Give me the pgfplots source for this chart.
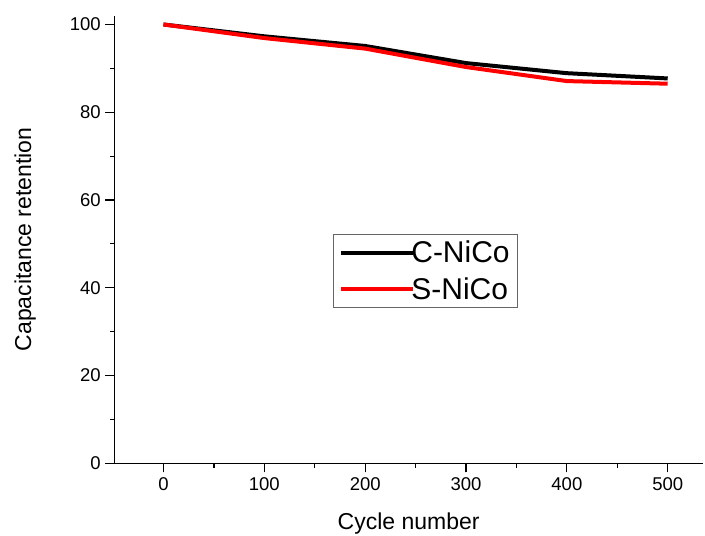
\documentclass[border=0pt]{standalone}
\usepackage{pgfplots}
\pgfplotsset{compat=1.18}
\usepackage{fontspec}
\setmainfont{Liberation Sans}
\begin{document}
\begin{tikzpicture}[x=1pt,y=1pt]
\path[use as bounding box] (-114.3,-72) rectangle (590.7,463.3);
\begin{axis}[
  at={(0,0)}, anchor=south west,
  scale only axis, width=588.7pt, height=447.6pt,
  xmin=-48.8, xmax=535, ymin=0, ymax=102,
  axis x line=bottom, axis y line=left,
  axis line style={-, line width=1.4pt},
  tick align=outside,
  major tick length=9pt, minor tick length=4.5pt,
  every tick/.style={line width=1.2pt, black},
  xtick={0,100,...,500}, minor xtick={-50,50,150,250,350,450},
  ytick={0,20,...,100}, minor ytick={10,30,50,70,90},
  tick label style={font=\fontsize{18.5}{20}\selectfont},
  /pgf/number format/assume math mode=true,
  xticklabel style={yshift=-2pt},
  yticklabel style={xshift=-1pt},
  xlabel={Cycle number}, ylabel={Capacitance retention},
  label style={font=\fontsize{23}{25}\selectfont},
  xlabel style={at={(axis description cs:0.5,0)}, anchor=center, yshift=-60pt},
  ylabel style={at={(axis description cs:0,0.5)}, anchor=center, yshift=89pt},
  legend style={at={(axis description cs:0.3714,0.513)}, anchor=north west,
    draw=black!60, line width=0.8pt, inner xsep=6pt, inner ysep=5pt,
    font=\fontsize{30}{32}\selectfont, row sep=9pt,
    /tikz/every even column/.append style={column sep=0pt}},
  legend cell align=left,
  legend image code/.code={\draw[#1] (0pt,0pt) -- (72pt,0pt);},
]
\addplot[black, line width=4pt] coordinates {(0,100) (100,97.3) (200,95.1) (300,91.2) (400,88.9) (500,87.7)};
\addlegendentry{\hspace{-6pt}C-NiCo}
\addplot[red, line width=4pt] coordinates {(0,100) (100,96.9) (200,94.5) (300,90.3) (400,87.1) (500,86.5)};
\addlegendentry{\hspace{-6pt}S-NiCo}
\end{axis}
\end{tikzpicture}
\end{document}
